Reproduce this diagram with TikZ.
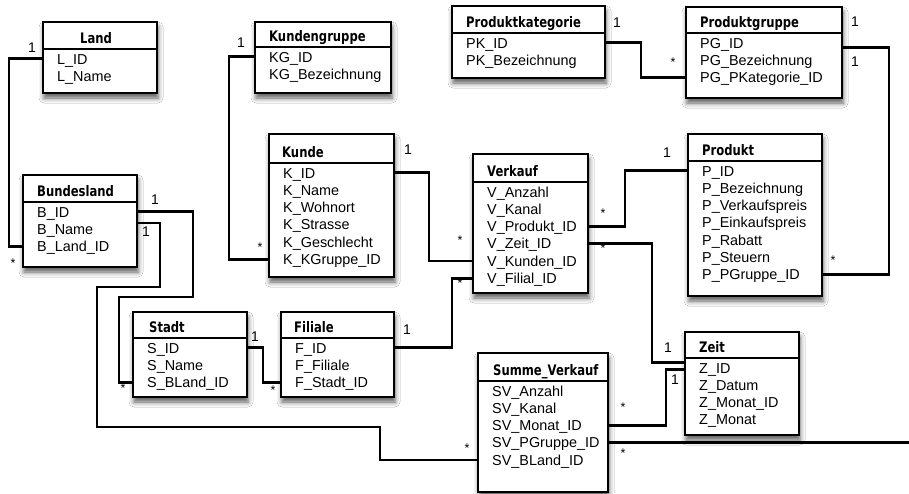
\documentclass[tikz,border=0pt]{standalone}
\usepackage{fontspec}
\setmainfont{Liberation Sans}
\newfontfamily\hdrfont{DejaVu Sans}[FakeStretch=0.8]
\usetikzlibrary{calc,shadows.blur}

\tikzset{
  tablebox/.style={draw=black, line width=1.2pt, fill=white, inner sep=0pt, outer sep=0pt,
    anchor=north west,
    blur shadow={shadow xshift=1pt, shadow yshift=-5pt, shadow blur radius=5pt, shadow opacity=65}},
  sepline/.style={line width=1.1pt},
  hdr/.style={anchor=base west, inner sep=0pt, font=\hdrfont\bfseries\fontsize{14.5}{17}\selectfont},
  attr/.style={anchor=base west, inner sep=0pt, text height=10.5pt, text depth=0pt,
    font=\fontsize{14.4}{17}\selectfont},
  conn/.style={line width=2.6pt, line join=miter},
  card/.style={inner sep=0pt, font=\fontsize{14}{16}\selectfont},
  cardstar/.style={inner sep=0pt, font=\fontsize{12.5}{14}\selectfont},
}

% \entity{name}{left}{top}{right}{bottom}{separator y}{title x}{title}{key/text list}
\newcommand\entity[9]{%
  \node[tablebox, minimum width={#4pt-#2pt}, minimum height={#5pt-#3pt}] (#1) at (#2,#3) {};
  \draw[sepline] (#2,#6) -- (#4,#6);
  \node[hdr] (#1-title) at (#7,#6-6) {#8};
  \foreach \key/\txt [count=\i from 0] in {#9}
    \node[attr] (#1-\key) at (#2+14,#6+15+17.3*\i) {\txt};
}

\begin{document}
\begin{tikzpicture}[x=1pt, y=-1pt]
\fill[white] (0,0) rectangle (909,493);
\useasboundingbox (0,0) rectangle (909,493);

% tables
\entity{land}{43}{22}{157}{93}{49}{80}{Land}{id/L\_ID, name/L\_Name}
\entity{bundesland}{23}{175}{137}{267}{202}{37}{Bundesland}{id/B\_ID, name/B\_Name, land/B\_Land\_ID}
\entity{kundengruppe}{255}{22}{391}{93}{47}{269}{Kundengruppe}{id/KG\_ID, bez/KG\_Bezeichnung}
\entity{kunde}{269}{134}{394}{277}{163}{282}{Kunde}{id/K\_ID, name/K\_Name, wohnort/K\_Wohnort, strasse/K\_Strasse, geschlecht/K\_Geschlecht, kgruppe/K\_KGruppe\_ID}
\entity{verkauf}{473}{154}{588}{293}{182}{487}{Verkauf}{anzahl/V\_Anzahl, kanal/V\_Kanal, produkt/V\_Produkt\_ID, zeit/V\_Zeit\_ID, kunden/V\_Kunden\_ID, filial/V\_Filial\_ID}
\entity{produktkategorie}{452}{6}{605}{78}{33}{466}{Produktkategorie}{id/PK\_ID, bez/PK\_Bezeichnung}
\entity{produktgruppe}{686}{7}{842}{98}{33}{700}{Produktgruppe}{id/PG\_ID, bez/PG\_Bezeichnung, pk/PG\_PKategorie\_ID}
\entity{produkt}{688}{134}{822}{296}{161}{702}{Produkt}{id/P\_ID, bez/P\_Bezeichnung, vk/P\_Verkaufspreis, ek/P\_Einkaufspreis, rabatt/P\_Rabatt, steuern/P\_Steuern, pgruppe/P\_PGruppe\_ID}
\entity{stadt}{133}{312}{247}{397}{338}{149}{Stadt}{id/S\_ID, name/S\_Name, bland/S\_BLand\_ID}
\entity{filiale}{281}{312}{394}{397}{338}{294}{Filiale}{id/F\_ID, filiale/F\_Filiale, stadt/F\_Stadt\_ID}
\entity{summe}{478}{353}{608}{492}{381}{493}{Summe\_Verkauf}{anzahl/SV\_Anzahl, kanal/SV\_Kanal, monat/SV\_Monat\_ID, pgruppe/SV\_PGruppe\_ID, bland/SV\_BLand\_ID}
\entity{zeit}{685}{332}{799}{435}{358}{699}{Zeit}{id/Z\_ID, datum/Z\_Datum, monatid/Z\_Monat\_ID, monat/Z\_Monat}

% free ends at the right margin
\coordinate (pgout) at (909,40);
\coordinate (svout) at (909,443);

% relationships
\draw[conn] (land.west |- land-id) -- ++(-34,0) |- (bundesland.west |- bundesland-land);
\node[card] (c1) at (32,48) {1};
\node[cardstar] (c2) at (13,263) {*};

\draw[conn] (bundesland.east |- bundesland-id) -| (193,297) -- (119,297) |- (stadt.west |- stadt-bland);
\node[card] (c3) at (155,200) {1};
\node[cardstar] (c4) at (123,388) {*};

\draw[conn] ($(bundesland.east |- bundesland-name)+(0,-6)$) -| (160,287) -- (97,287) |- (380,427) |- (summe.west |- summe-bland);
\node[card] (c5) at (146,232) {1};
\node[cardstar] (c6) at (467,448) {*};

\draw[conn] (kundengruppe.west |- kundengruppe-id) -- ++(-26,0) |- (kunde.west |- kunde-kgruppe);
\node[card] (c7) at (241,43) {1};
\node[cardstar] (c8) at (260,247) {*};

\draw[conn] (kunde.east |- kunde-id) -- ++(35,0) |- (verkauf.west |- verkauf-kunden);
\node[card] (c9) at (408,150) {1};
\node[cardstar] (c10) at (460,240) {*};

\draw[conn] (filiale.east |- filiale-id) -- ++(58,0) |- (verkauf.west |- verkauf-filial);
\node[card] (c11) at (407,330) {1};
\node[cardstar] (c12) at (460,283) {*};

\draw[conn] (stadt.east |- stadt-id) -- ++(16,0) |- (filiale.west |- filiale-stadt);
\node[card] (c13) at (255,337) {1};
\node[cardstar] (c14) at (273,390) {*};

\draw[conn] (verkauf.east |- verkauf-produkt) -- ++(37,0) |- (produkt.west |- produkt-id);
\node[cardstar] (c15) at (603,213) {*};
\node[card] (c16) at (667,153) {1};

\draw[conn] (verkauf.east |- verkauf-zeit) -- ++(64,0) |- ($(zeit.west |- zeit-id)+(0,-5)$);
\node[cardstar] (c17) at (603,248) {*};
\node[card] (c18) at (668,348) {1};

\draw[conn] (summe.east |- summe-monat) -- ++(58,0) |- ($(zeit.west |- zeit-id)+(0,2)$);
\node[cardstar] (c19) at (623,407) {*};
\node[card] (c20) at (675,380) {1};

\draw[conn] (produktkategorie.east |- produktkategorie-id) -- ++(36,0) |- (produktgruppe.west |- produktgruppe-pk);
\node[card] (c21) at (617,23) {1};
\node[cardstar] (c22) at (673,62) {*};

\draw[conn] ($(produktgruppe.east |- produktgruppe-id)+(0,5)$) -- ++(47,0) |- (produkt.east |- produkt-pgruppe);
\node[card] (c23) at (855,62) {1};
\node[cardstar] (c24) at (833,260) {*};

\draw[conn] ($(produktgruppe.east |- produktgruppe-id)+(0,-3)$) -- ($(produktgruppe.east |- produktgruppe-id)+(0,-3)$ -| pgout);
\node[card] (c25) at (855,22) {1};

\draw[conn] (summe.east |- summe-pgruppe) -- (summe-pgruppe -| svout);
\node[cardstar] (c26) at (623,453) {*};
\end{tikzpicture}
\end{document}
